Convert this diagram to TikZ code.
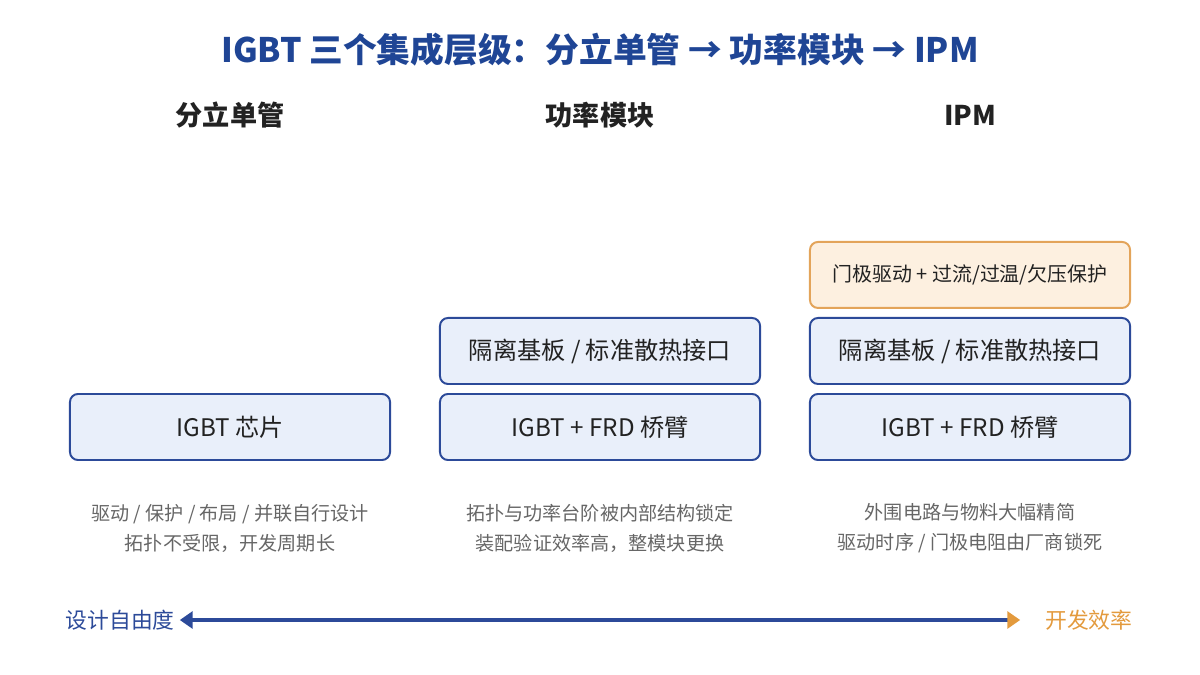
\documentclass[tikz,border=0pt]{standalone}
\usepackage{fontspec}
\setmainfont{Noto Sans CJK SC}
\usetikzlibrary{positioning,arrows.meta}

\definecolor{titleblue}{HTML}{1F4595}
\definecolor{boxline}{HTML}{2C4A99}
\definecolor{boxfill}{HTML}{E9EFFA}
\definecolor{ipmline}{HTML}{E3A45A}
\definecolor{ipmfill}{HTML}{FDF0E0}
\definecolor{headtext}{HTML}{222222}
\definecolor{notetext}{HTML}{666666}
\definecolor{effcolor}{HTML}{E39A3D}

\tikzset{
  layer/.style={draw=boxline, fill=boxfill, line width=1.4pt, rounded corners=0.2cm, outer sep=0pt,
    minimum width=8cm, minimum height=1.65cm, font=\fontsize{17.2}{20}\selectfont, text=headtext},
  drvlayer/.style={layer, draw=ipmline, fill=ipmfill, font=\fontsize{14.2}{17}\selectfont},
  colhead/.style={font=\bfseries\fontsize{19.3}{23}\selectfont, text=headtext},
  note/.style={align=center, font=\fontsize{13.6}{21.3}\selectfont, text=notetext}
}

\begin{document}
\begin{tikzpicture}[x=0.025cm, y=-0.025cm]
        \useasboundingbox (0,0) rectangle (1200,675);
        \node[font=\bfseries\fontsize{24}{28}\selectfont, text=titleblue] (title) at (600,50)
          {IGBT 三个集成层级：分立单管 → 功率模块 → IPM};
        \foreach \x/\name/\txt in {230/hdisc/分立单管, 600/hmod/功率模块, 970/hipm/IPM} {
          \node[colhead] (\name) at (\x,115) {\txt};
        }
        % column 1
        \node[layer] (chip) at (230,427) {IGBT 芯片};
        % column 2
        \node[layer] (modarm) at (600,427) {IGBT + FRD 桥臂};
        \node[layer, above=0.25cm of modarm] (modsub) {隔离基板 / 标准散热接口};
        % column 3
        \node[layer] (ipmarm) at (970,427) {IGBT + FRD 桥臂};
        \node[layer, above=0.25cm of ipmarm] (ipmsub) {隔离基板 / 标准散热接口};
        \node[drvlayer, above=0.25cm of ipmsub] (ipmdrv) {门极驱动 + 过流/过温/欠压保护};
        % notes
        \node[note] (ndisc) at (230,528) {驱动 / 保护 / 布局 / 并联自行设计\\拓扑不受限，开发周期长};
        \node[note] (nmod) at (600,528) {拓扑与功率台阶被内部结构锁定\\装配验证效率高，整模块更换};
        \node[note] (nipm) at (970,528) {外围电路与物料大幅精简\\驱动时序 / 门极电阻由厂商锁死};
        % trade-off axis
        \node[anchor=east, inner sep=0pt, text=boxline, font=\fontsize{15.5}{18}\selectfont] (free) at (175,620) {设计自由度};
        \node[anchor=west, inner sep=0pt, text=effcolor, font=\fontsize{15.5}{18}\selectfont] (eff) at (1045,620) {开发效率};
        \draw[boxline, line width=2.4pt,
              {Triangle[length=0.32cm,width=0.42cm]}-{Triangle[length=0.32cm,width=0.42cm,color=effcolor]}]
          ([xshift=0.12cm]free.east) -- ([xshift=-0.62cm]eff.west);
\end{tikzpicture}
\end{document}
